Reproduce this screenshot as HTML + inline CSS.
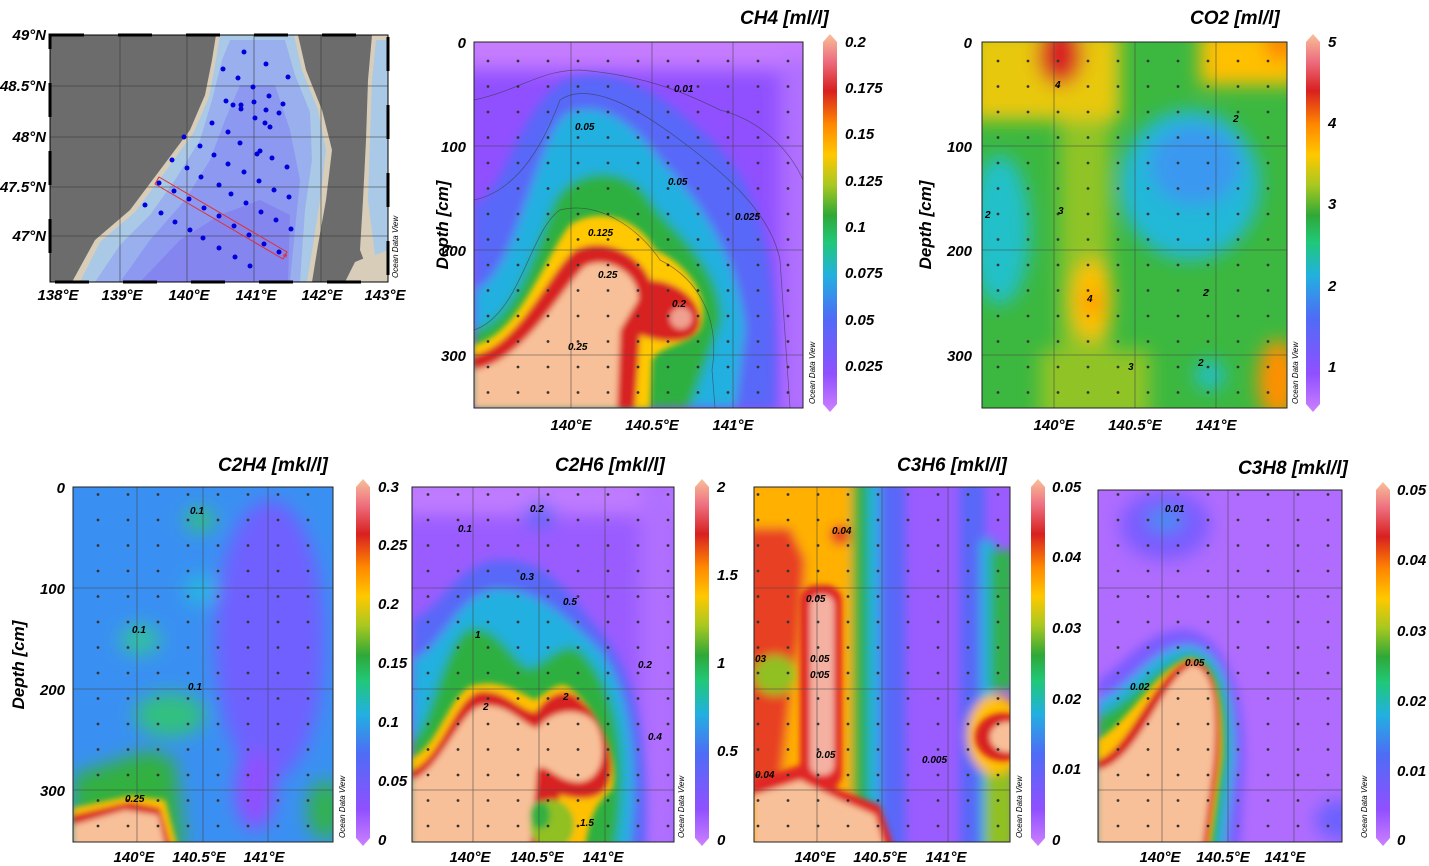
<!DOCTYPE html>
<html><head><meta charset="utf-8"><style>
body{margin:0;background:#fff}
svg{display:block}
text{font-family:"Liberation Sans",Arial,sans-serif;font-weight:bold;font-style:italic;fill:#000}
.t{font-size:15px}.ti{font-size:19px}.yl{font-size:17px}.odv{font-size:8px;font-weight:normal}
.c{font-size:10px}
</style></head><body>
<svg width="1429" height="866" viewBox="0 0 1429 866" xmlns="http://www.w3.org/2000/svg">
<defs>
<linearGradient id="cm" x1="0" y1="1" x2="0" y2="0">
<stop offset="0" stop-color="#cc80ff"/><stop offset="0.1" stop-color="#9050ff"/><stop offset="0.25" stop-color="#4e6cf5"/>
<stop offset="0.36" stop-color="#22b0e0"/><stop offset="0.45" stop-color="#20c878"/><stop offset="0.52" stop-color="#2fa838"/>
<stop offset="0.6" stop-color="#a8c820"/><stop offset="0.68" stop-color="#ffc800"/><stop offset="0.76" stop-color="#ff8800"/>
<stop offset="0.85" stop-color="#d82020"/><stop offset="0.93" stop-color="#ee7080"/><stop offset="1" stop-color="#f8c098"/>
</linearGradient>
<filter id="bl" x="-20%" y="-20%" width="140%" height="140%"><feGaussianBlur stdDeviation="9"/></filter>
<filter id="bm" x="-20%" y="-20%" width="140%" height="140%"><feGaussianBlur stdDeviation="5"/></filter>
<filter id="bs" x="-20%" y="-20%" width="140%" height="140%"><feGaussianBlur stdDeviation="3"/></filter>
<pattern id="dots" width="30" height="25.5" patternUnits="userSpaceOnUse"><circle cx="8" cy="10" r="1.4" fill="#333"/></pattern>
<clipPath id="k1"><rect x="474" y="42" width="329" height="366"/></clipPath>
<clipPath id="k2"><rect x="982" y="42" width="305" height="366"/></clipPath>
<clipPath id="k3"><rect x="73" y="487" width="260" height="355"/></clipPath>
<clipPath id="k4"><rect x="412" y="487" width="262" height="355"/></clipPath>
<clipPath id="k5"><rect x="754" y="487" width="256" height="355"/></clipPath>
<clipPath id="k6"><rect x="1098" y="490" width="244" height="352"/></clipPath>
<clipPath id="km"><rect x="50" y="35" width="338" height="247"/></clipPath>
</defs>

<!-- MAP -->
<g clip-path="url(#km)">
<rect x="50" y="35" width="338" height="247" fill="#6c6c6c"/>
<path d="M72,282 L95,240 L130,210 L160,170 L190,130 L205,95 L212,60 L216,35 L298,35 L306,70 L322,110 L332,150 L326,200 L318,245 L312,282 Z" fill="#d8cdb8"/>
<path d="M80,282 L100,242 L135,212 L165,172 L194,132 L209,97 L216,60 L220,35 L294,35 L302,70 L318,110 L326,150 L320,200 L313,245 L307,282 Z" fill="#a9c9e6"/>
<path d="M95,282 L120,245 L150,215 L175,180 L200,140 L212,100 L222,60 L230,40 L285,40 L295,75 L310,112 L312,160 L305,210 L300,282 Z" fill="#9ab0ee"/>
<path d="M120,282 L150,240 L185,200 L210,160 L225,120 L240,85 L275,85 L290,130 L300,180 L295,230 L290,282 Z" fill="#8d98f0"/>
<path d="M140,282 L180,240 L220,215 L260,200 L290,215 L288,282 Z" fill="#8585f0"/>
<path d="M372,35 L388,35 L388,282 L372,282 L360,250 L363,200 L366,140 L368,80 Z" fill="#d8cdb8"/>
<path d="M376,40 L388,40 L388,250 L375,255 L368,200 L370,140 L372,80 Z" fill="#a9c9e6"/>
<path d="M345,282 L355,262 L372,255 L388,262 L388,282 Z" fill="#d8cdb8"/>
<g stroke="#333" stroke-width="0.8" opacity="0.7">
<line x1="120" y1="35" x2="120" y2="282"/><line x1="187" y1="35" x2="187" y2="282"/><line x1="254" y1="35" x2="254" y2="282"/><line x1="321" y1="35" x2="321" y2="282"/>
<line x1="50" y1="86" x2="388" y2="86"/><line x1="50" y1="137" x2="388" y2="137"/><line x1="50" y1="187" x2="388" y2="187"/><line x1="50" y1="236" x2="388" y2="236"/>
</g>
<polygon points="159,177 155,184 283,259 287,252" fill="none" stroke="#e03030" stroke-width="1"/>
<g fill="#0000dd">
<circle cx="244" cy="52" r="2.5"/><circle cx="266" cy="64" r="2.5"/><circle cx="223" cy="69" r="2.5"/><circle cx="238" cy="78" r="2.5"/><circle cx="288" cy="77" r="2.5"/><circle cx="253" cy="87" r="2.5"/><circle cx="269" cy="96" r="2.5"/><circle cx="226" cy="101" r="2.5"/><circle cx="233" cy="105" r="2.5"/><circle cx="241" cy="105" r="2.5"/><circle cx="254" cy="102" r="2.5"/><circle cx="283" cy="104" r="2.5"/><circle cx="241" cy="109" r="2.5"/><circle cx="266" cy="110" r="2.5"/><circle cx="279" cy="113" r="2.5"/><circle cx="255" cy="118" r="2.5"/><circle cx="212" cy="123" r="2.5"/><circle cx="265" cy="123" r="2.5"/><circle cx="270" cy="127" r="2.5"/><circle cx="228" cy="132" r="2.5"/><circle cx="184" cy="137" r="2.5"/><circle cx="240" cy="143" r="2.5"/><circle cx="200" cy="146" r="2.5"/><circle cx="260" cy="151" r="2.5"/><circle cx="257" cy="154" r="2.5"/><circle cx="214" cy="155" r="2.5"/><circle cx="272" cy="158" r="2.5"/><circle cx="172" cy="160" r="2.5"/><circle cx="228" cy="164" r="2.5"/><circle cx="287" cy="167" r="2.5"/><circle cx="187" cy="168" r="2.5"/><circle cx="244" cy="172" r="2.5"/><circle cx="201" cy="177" r="2.5"/><circle cx="259" cy="181" r="2.5"/><circle cx="159" cy="183" r="2.5"/><circle cx="219" cy="185" r="2.5"/><circle cx="174" cy="191" r="2.5"/><circle cx="274" cy="190" r="2.5"/><circle cx="231" cy="194" r="2.5"/><circle cx="189" cy="199" r="2.5"/><circle cx="289" cy="197" r="2.5"/><circle cx="246" cy="203" r="2.5"/><circle cx="145" cy="205" r="2.5"/><circle cx="204" cy="208" r="2.5"/><circle cx="261" cy="212" r="2.5"/><circle cx="161" cy="213" r="2.5"/><circle cx="219" cy="216" r="2.5"/><circle cx="276" cy="220" r="2.5"/><circle cx="175" cy="222" r="2.5"/><circle cx="234" cy="226" r="2.5"/><circle cx="291" cy="229" r="2.5"/><circle cx="190" cy="230" r="2.5"/><circle cx="249" cy="235" r="2.5"/><circle cx="203" cy="238" r="2.5"/><circle cx="264" cy="244" r="2.5"/><circle cx="219" cy="248" r="2.5"/><circle cx="279" cy="252" r="2.5"/><circle cx="235" cy="257" r="2.5"/><circle cx="250" cy="266" r="2.5"/>
</g>
<text x="283" y="261" style="font-size:11px;fill:#e03030;font-style:normal">*</text>
</g>
<rect x="50" y="35" width="338" height="247" fill="none" stroke="#000" stroke-width="3" stroke-dasharray="34 34"/>
<rect x="50" y="35" width="338" height="247" fill="none" stroke="#000" stroke-width="1"/>
<g class="t" text-anchor="end"><text x="46" y="40">49°N</text><text x="46" y="91">48.5°N</text><text x="46" y="142">48°N</text><text x="46" y="192">47.5°N</text><text x="46" y="241">47°N</text></g>
<g class="t" text-anchor="middle"><text x="58" y="300">138°E</text><text x="122" y="300">139°E</text><text x="189" y="300">140°E</text><text x="256" y="300">141°E</text><text x="322" y="300">142°E</text><text x="385" y="300">143°E</text></g>
<text class="odv" transform="translate(398,278) rotate(-90)">Ocean Data View</text>

<!-- CH4 -->
<g clip-path="url(#k1)">
<rect x="474" y="42" width="329" height="366" fill="#9050ff"/>
<g filter="url(#bl)">
<rect x="460" y="20" width="360" height="50" fill="#c57cff"/>
<rect x="780" y="60" width="40" height="360" fill="#b070ff"/>
</g>
<g filter="url(#bm)">
<path d="M474,205 C505,195 520,100 570,78 C620,65 660,95 700,130 C760,180 780,250 775,408 L474,408Z" fill="#5868f8"/>
<path d="M474,290 C515,280 535,140 565,115 C600,95 640,130 660,160 C700,200 740,260 745,330 L735,408 L474,408Z" fill="#22b0e0"/>
<path d="M474,330 C520,320 540,230 555,200 C575,165 630,165 650,200 C670,230 720,260 722,320 L690,408 L474,408Z" fill="#2fb040"/>
</g>
<g filter="url(#bs)">
<path d="M474,345 C520,335 545,255 570,225 C600,205 640,220 655,250 C690,265 712,300 700,330 C690,345 660,345 652,360 L650,408 L474,408Z" fill="#ffc800"/>
<path d="M474,355 C520,345 550,270 575,250 C605,235 640,255 650,280 C670,280 700,295 700,320 C700,345 665,345 640,335 L635,408 L474,408Z" fill="#d82020"/>
<path d="M474,370 C525,360 560,290 585,266 C610,255 640,275 638,300 L620,330 L617,408 L474,408Z" fill="#f8c098"/>
<circle cx="681" cy="318" r="11" fill="#f0a090"/>
</g>
<g fill="none" stroke="#333" stroke-width="0.7" opacity="0.6">
<path d="M474,100 C520,90 540,70 580,70 C640,75 680,90 720,110 C760,120 790,150 803,180"/>
<path d="M474,200 C520,190 545,140 560,100 C590,80 640,110 680,140 C720,170 770,210 780,260 L790,408"/>
<path d="M474,330 C520,315 530,230 560,210 C600,200 640,230 660,260 C700,280 720,320 712,370 L715,408"/>
</g>
<rect x="474" y="42" width="329" height="366" fill="url(#dots)"/>
<g stroke="#444" stroke-width="0.8" opacity="0.7"><line x1="571" y1="42" x2="571" y2="408"/><line x1="652" y1="42" x2="652" y2="408"/><line x1="733" y1="42" x2="733" y2="408"/><line x1="474" y1="146" x2="803" y2="146"/><line x1="474" y1="250" x2="803" y2="250"/><line x1="474" y1="355" x2="803" y2="355"/></g>
<g class="c"><text x="674" y="92">0.01</text><text x="575" y="130">0.05</text><text x="668" y="185">0.05</text><text x="735" y="220">0.025</text><text x="588" y="236">0.125</text><text x="598" y="278">0.25</text><text x="672" y="307">0.2</text><text x="568" y="350">0.25</text></g>
</g>
<rect x="474" y="42" width="329" height="366" fill="none" stroke="#222" stroke-width="1"/>
<text class="ti" x="740" y="24">CH4 [ml/l]</text>
<g class="t" text-anchor="end"><text x="466" y="48">0</text><text x="466" y="152">100</text><text x="466" y="256">200</text><text x="466" y="361">300</text></g>
<text class="yl" transform="translate(448,225) rotate(-90)" text-anchor="middle">Depth [cm]</text>
<g class="t" text-anchor="middle"><text x="571" y="430">140°E</text><text x="652" y="430">140.5°E</text><text x="733" y="430">141°E</text></g>
<text class="odv" transform="translate(815,404) rotate(-90)">Ocean Data View</text>
<polygon points="830,34 837,42 837,404 830,412 823,404 823,42" fill="url(#cm)"/>
<g class="t"><text x="845" y="47">0.2</text><text x="845" y="93">0.175</text><text x="845" y="139">0.15</text><text x="845" y="186">0.125</text><text x="845" y="232">0.1</text><text x="845" y="278">0.075</text><text x="845" y="325">0.05</text><text x="845" y="371">0.025</text></g>

<!-- CO2 -->
<g clip-path="url(#k2)">
<rect x="982" y="42" width="305" height="366" fill="#3cb840"/>
<g filter="url(#bl)">
<rect x="970" y="30" width="150" height="90" fill="#e8c810"/>
<rect x="1200" y="30" width="100" height="55" fill="#ffc000"/>
<rect x="1060" y="120" width="50" height="260" fill="#90c428"/>
<rect x="1040" y="350" width="110" height="70" fill="#90c428"/>
<ellipse cx="1190" cy="185" rx="70" ry="75" fill="#22b8d8"/>
<ellipse cx="1195" cy="165" rx="45" ry="40" fill="#3a98f0"/>
<ellipse cx="1000" cy="230" rx="30" ry="75" fill="#22c0c8"/>
<ellipse cx="1210" cy="375" rx="15" ry="15" fill="#22c0c8"/>
<ellipse cx="1092" cy="300" rx="20" ry="40" fill="#ffc000"/>
<ellipse cx="1092" cy="302" rx="8" ry="10" fill="#ff8000"/>
<ellipse cx="1278" cy="380" rx="20" ry="40" fill="#ff9000"/>
<ellipse cx="1280" cy="45" rx="15" ry="15" fill="#ff8000"/>
<ellipse cx="1060" cy="55" rx="22" ry="30" fill="#d82020"/>
</g>
<rect x="982" y="42" width="305" height="366" fill="url(#dots)"/>
<g stroke="#444" stroke-width="0.8" opacity="0.7"><line x1="1054" y1="42" x2="1054" y2="408"/><line x1="1135" y1="42" x2="1135" y2="408"/><line x1="1216" y1="42" x2="1216" y2="408"/><line x1="982" y1="146" x2="1287" y2="146"/><line x1="982" y1="250" x2="1287" y2="250"/><line x1="982" y1="355" x2="1287" y2="355"/></g>
<g class="c"><text x="1055" y="88">4</text><text x="1233" y="122">2</text><text x="985" y="218">2</text><text x="1058" y="214">3</text><text x="1087" y="302">4</text><text x="1203" y="296">2</text><text x="1198" y="366">2</text><text x="1128" y="370">3</text></g>
</g>
<rect x="982" y="42" width="305" height="366" fill="none" stroke="#222"/>
<text class="ti" x="1190" y="24">CO2 [ml/l]</text>
<g class="t" text-anchor="end"><text x="972" y="48">0</text><text x="972" y="152">100</text><text x="972" y="256">200</text><text x="972" y="361">300</text></g>
<text class="yl" transform="translate(931,225) rotate(-90)" text-anchor="middle">Depth [cm]</text>
<g class="t" text-anchor="middle"><text x="1054" y="430">140°E</text><text x="1135" y="430">140.5°E</text><text x="1216" y="430">141°E</text></g>
<text class="odv" transform="translate(1298,404) rotate(-90)">Ocean Data View</text>
<polygon points="1313,34 1320,42 1320,404 1313,412 1306,404 1306,42" fill="url(#cm)"/>
<g class="t"><text x="1328" y="47">5</text><text x="1328" y="128">4</text><text x="1328" y="209">3</text><text x="1328" y="291">2</text><text x="1328" y="372">1</text></g>

<!-- C2H4 -->
<g clip-path="url(#k3)">
<rect x="73" y="487" width="260" height="355" fill="#3a90f2"/>
<g filter="url(#bl)">
<ellipse cx="270" cy="640" rx="55" ry="140" fill="#7060ff"/>
<ellipse cx="255" cy="790" rx="20" ry="40" fill="#9050ff"/>
<ellipse cx="200" cy="520" rx="15" ry="12" fill="#30c080"/>
<ellipse cx="140" cy="640" rx="20" ry="15" fill="#30c0a0"/>
<ellipse cx="200" cy="590" rx="15" ry="15" fill="#28b8e0"/>
<ellipse cx="170" cy="715" rx="35" ry="22" fill="#30c080"/>
<ellipse cx="325" cy="810" rx="18" ry="30" fill="#30b050"/>
<path d="M73,775 L150,750 L175,760 L185,850 L73,850Z" fill="#30b040"/>
</g>
<g filter="url(#bs)">
<path d="M73,808 L130,796 L165,800 L178,850 L73,850Z" fill="#ffc000"/>
<path d="M73,815 L130,802 L160,808 L172,850 L73,850Z" fill="#d82020"/>
<path d="M73,825 L125,810 L158,815 L166,850 L73,850Z" fill="#f8c098"/>
</g>
<rect x="73" y="487" width="260" height="355" fill="url(#dots)"/>
<g stroke="#444" stroke-width="0.8" opacity="0.7"><line x1="137" y1="487" x2="137" y2="842"/><line x1="203" y1="487" x2="203" y2="842"/><line x1="268" y1="487" x2="268" y2="842"/><line x1="73" y1="588" x2="333" y2="588"/><line x1="73" y1="689" x2="333" y2="689"/><line x1="73" y1="790" x2="333" y2="790"/></g>
<g class="c"><text x="190" y="514">0.1</text><text x="132" y="633">0.1</text><text x="188" y="690">0.1</text><text x="125" y="802">0.25</text></g>
</g>
<rect x="73" y="487" width="260" height="355" fill="none" stroke="#222"/>
<text class="ti" x="218" y="471">C2H4 [mkl/l]</text>
<g class="t" text-anchor="end"><text x="65" y="493">0</text><text x="65" y="594">100</text><text x="65" y="695">200</text><text x="65" y="796">300</text></g>
<text class="yl" transform="translate(24,665) rotate(-90)" text-anchor="middle">Depth [cm]</text>
<g class="t" text-anchor="middle"><text x="134" y="862">140°E</text><text x="199" y="862">140.5°E</text><text x="264" y="862">141°E</text></g>
<text class="odv" transform="translate(345,838) rotate(-90)">Ocean Data View</text>
<polygon points="363,479 370,487 370,838 363,846 356,838 356,487" fill="url(#cm)"/>
<g class="t"><text x="378" y="492">0.3</text><text x="378" y="550">0.25</text><text x="378" y="609">0.2</text><text x="378" y="668">0.15</text><text x="378" y="727">0.1</text><text x="378" y="786">0.05</text><text x="378" y="845">0</text></g>

<!-- C2H6 -->
<g clip-path="url(#k4)">
<rect x="412" y="487" width="262" height="355" fill="#9a5cff"/>
<g filter="url(#bl)">
<rect x="400" y="475" width="290" height="40" fill="#c07cff"/>
<rect x="640" y="475" width="40" height="380" fill="#b070ff"/>
<ellipse cx="540" cy="515" rx="15" ry="12" fill="#5868f8"/>
</g>
<g filter="url(#bm)">
<path d="M412,620 C440,610 460,560 500,560 C540,560 560,580 590,620 C630,660 650,720 645,850 L412,850Z" fill="#5868f8"/>
<path d="M412,660 C440,650 455,600 490,590 C530,585 560,610 600,650 C630,690 640,760 630,850 L412,850Z" fill="#22b0e0"/>
<path d="M412,740 C430,730 445,635 470,628 C500,625 510,660 530,668 C550,660 560,640 580,650 C620,690 630,760 615,850 L412,850Z" fill="#2fb040"/>
</g>
<g filter="url(#bs)">
<path d="M412,758 C440,745 450,690 475,685 C500,680 515,690 535,700 C550,690 560,680 570,688 C600,710 620,760 612,790 C600,800 590,810 585,850 L412,850Z" fill="#ffc000"/>
<path d="M412,770 C440,760 455,700 478,692 C505,688 520,712 536,712 C550,690 570,688 580,700 C605,720 620,770 605,790 C595,800 580,800 560,795 L545,850 L412,850Z" fill="#d82020"/>
<path d="M412,780 C440,770 460,712 480,706 C510,702 525,728 538,728 C555,705 590,708 598,728 C608,755 600,780 580,782 C555,782 545,760 537,770 L530,850 L412,850Z" fill="#f8c098"/>
<ellipse cx="552" cy="825" rx="22" ry="25" fill="#90c020"/>
<ellipse cx="540" cy="815" rx="10" ry="14" fill="#30b040"/>
</g>
<rect x="412" y="487" width="262" height="355" fill="url(#dots)"/>
<g stroke="#444" stroke-width="0.8" opacity="0.7"><line x1="473" y1="487" x2="473" y2="842"/><line x1="539" y1="487" x2="539" y2="842"/><line x1="605" y1="487" x2="605" y2="842"/><line x1="412" y1="588" x2="674" y2="588"/><line x1="412" y1="689" x2="674" y2="689"/><line x1="412" y1="790" x2="674" y2="790"/></g>
<g class="c"><text x="530" y="512">0.2</text><text x="458" y="532">0.1</text><text x="520" y="580">0.3</text><text x="563" y="605">0.5</text><text x="475" y="638">1</text><text x="638" y="668">0.2</text><text x="483" y="710">2</text><text x="563" y="700">2</text><text x="648" y="740">0.4</text><text x="580" y="826">1.5</text></g>
</g>
<rect x="412" y="487" width="262" height="355" fill="none" stroke="#222"/>
<text class="ti" x="555" y="471">C2H6 [mkl/l]</text>
<g class="t" text-anchor="middle"><text x="470" y="862">140°E</text><text x="537" y="862">140.5°E</text><text x="603" y="862">141°E</text></g>
<text class="odv" transform="translate(684,838) rotate(-90)">Ocean Data View</text>
<polygon points="702,479 709,487 709,838 702,846 695,838 695,487" fill="url(#cm)"/>
<g class="t"><text x="717" y="492">2</text><text x="717" y="580">1.5</text><text x="717" y="668">1</text><text x="717" y="756">0.5</text><text x="717" y="845">0</text></g>

<!-- C3H6 -->
<g clip-path="url(#k5)">
<rect x="754" y="487" width="256" height="355" fill="#9a5cff"/>
<g filter="url(#bm)">
<rect x="740" y="480" width="120" height="370" fill="#ffb000"/>
<path d="M740,528 L790,528 L805,560 L800,640 L790,700 L780,790 L740,800Z" fill="#e84020"/>
<ellipse cx="775" cy="675" rx="22" ry="20" fill="#90c020"/>
<ellipse cx="840" cy="535" rx="10" ry="10" fill="#e84020"/>
<rect x="852" y="480" width="18" height="370" fill="#2fb040"/>
<rect x="868" y="480" width="14" height="370" fill="#22b0e0"/>
<rect x="880" y="480" width="25" height="370" fill="#5868f8"/>
<rect x="960" y="480" width="25" height="370" fill="#5868f8"/>
<rect x="980" y="540" width="15" height="310" fill="#22b0e0"/>
<rect x="990" y="550" width="25" height="140" fill="#30b050"/>
<rect x="985" y="760" width="30" height="90" fill="#90c020"/>
<ellipse cx="995" cy="735" rx="28" ry="40" fill="#ffc000"/>
</g>
<g filter="url(#bs)">
<rect x="800" y="585" width="42" height="205" rx="16" fill="#e02828"/>
<rect x="810" y="595" width="24" height="180" rx="10" fill="#f4b0a0"/>
<path d="M754,780 L800,765 L840,790 L880,805 L895,850 L754,850Z" fill="#e02828"/>
<path d="M754,795 L800,780 L840,800 L875,815 L885,850 L754,850Z" fill="#f8c098"/>
<ellipse cx="1003" cy="737" rx="28" ry="24" fill="#d82020"/>
<ellipse cx="1008" cy="737" rx="18" ry="15" fill="#f8c098"/>
</g>
<rect x="754" y="487" width="256" height="355" fill="url(#dots)"/>
<g stroke="#444" stroke-width="0.8" opacity="0.7"><line x1="817" y1="487" x2="817" y2="842"/><line x1="882" y1="487" x2="882" y2="842"/><line x1="948" y1="487" x2="948" y2="842"/><line x1="754" y1="588" x2="1010" y2="588"/><line x1="754" y1="689" x2="1010" y2="689"/><line x1="754" y1="790" x2="1010" y2="790"/></g>
<g class="c"><text x="832" y="534">0.04</text><text x="806" y="602">0.05</text><text x="810" y="662">0.05</text><text x="810" y="678">0.05</text><text x="755" y="662">03</text><text x="816" y="758">0.05</text><text x="755" y="778">0.04</text><text x="922" y="763">0.005</text></g>
</g>
<rect x="754" y="487" width="256" height="355" fill="none" stroke="#222"/>
<text class="ti" x="897" y="471">C3H6 [mkl/l]</text>
<g class="t" text-anchor="middle"><text x="815" y="862">140°E</text><text x="880" y="862">140.5°E</text><text x="946" y="862">141°E</text></g>
<text class="odv" transform="translate(1022,838) rotate(-90)">Ocean Data View</text>
<polygon points="1038,479 1045,487 1045,838 1038,846 1031,838 1031,487" fill="url(#cm)"/>
<g class="t"><text x="1052" y="492">0.05</text><text x="1052" y="562">0.04</text><text x="1052" y="633">0.03</text><text x="1052" y="704">0.02</text><text x="1052" y="774">0.01</text><text x="1052" y="845">0</text></g>

<!-- C3H8 -->
<g clip-path="url(#k6)">
<rect x="1098" y="490" width="244" height="352" fill="#b06cff"/>
<g filter="url(#bl)">
<ellipse cx="1165" cy="525" rx="45" ry="35" fill="#7a5cff"/>
<ellipse cx="1165" cy="520" rx="18" ry="12" fill="#3a90f2"/>
<ellipse cx="1340" cy="820" rx="25" ry="20" fill="#6a60ff"/>
</g>
<g filter="url(#bm)">
<path d="M1098,680 C1130,660 1150,625 1190,630 C1230,640 1245,700 1245,760 L1240,850 L1098,850Z" fill="#7a5cff"/>
<path d="M1098,700 C1130,690 1150,645 1190,645 C1225,650 1235,700 1235,760 L1225,850 L1098,850Z" fill="#22b0e0"/>
<path d="M1098,715 C1130,705 1160,660 1190,655 C1220,660 1228,700 1226,760 L1215,850 L1098,850Z" fill="#2fb040"/>
</g>
<g filter="url(#bs)">
<path d="M1098,740 C1130,720 1160,665 1190,658 C1215,660 1225,700 1222,760 L1210,850 L1098,850Z" fill="#ffc000"/>
<path d="M1098,760 C1130,750 1155,670 1190,660 C1215,660 1222,700 1219,760 L1207,850 L1098,850Z" fill="#d82020"/>
<path d="M1098,770 C1140,760 1160,680 1192,665 C1212,668 1218,700 1214,760 L1202,850 L1098,850Z" fill="#f8c098"/>
</g>
<rect x="1098" y="490" width="244" height="352" fill="url(#dots)"/>
<g stroke="#444" stroke-width="0.8" opacity="0.7"><line x1="1162" y1="490" x2="1162" y2="842"/><line x1="1228" y1="490" x2="1228" y2="842"/><line x1="1294" y1="490" x2="1294" y2="842"/><line x1="1098" y1="588" x2="1342" y2="588"/><line x1="1098" y1="689" x2="1342" y2="689"/><line x1="1098" y1="790" x2="1342" y2="790"/></g>
<g class="c"><text x="1165" y="512">0.01</text><text x="1185" y="666">0.05</text><text x="1130" y="690">0.02</text></g>
</g>
<rect x="1098" y="490" width="244" height="352" fill="none" stroke="#222"/>
<text class="ti" x="1238" y="474">C3H8 [mkl/l]</text>
<g class="t" text-anchor="middle"><text x="1160" y="862">140°E</text><text x="1223" y="862">140.5°E</text><text x="1285" y="862">141°E</text></g>
<text class="odv" transform="translate(1367,838) rotate(-90)">Ocean Data View</text>
<polygon points="1383,482 1390,490 1390,838 1383,846 1376,838 1376,490" fill="url(#cm)"/>
<g class="t"><text x="1397" y="495">0.05</text><text x="1397" y="565">0.04</text><text x="1397" y="636">0.03</text><text x="1397" y="706">0.02</text><text x="1397" y="776">0.01</text><text x="1397" y="845">0</text></g>
</svg>
</body></html>
